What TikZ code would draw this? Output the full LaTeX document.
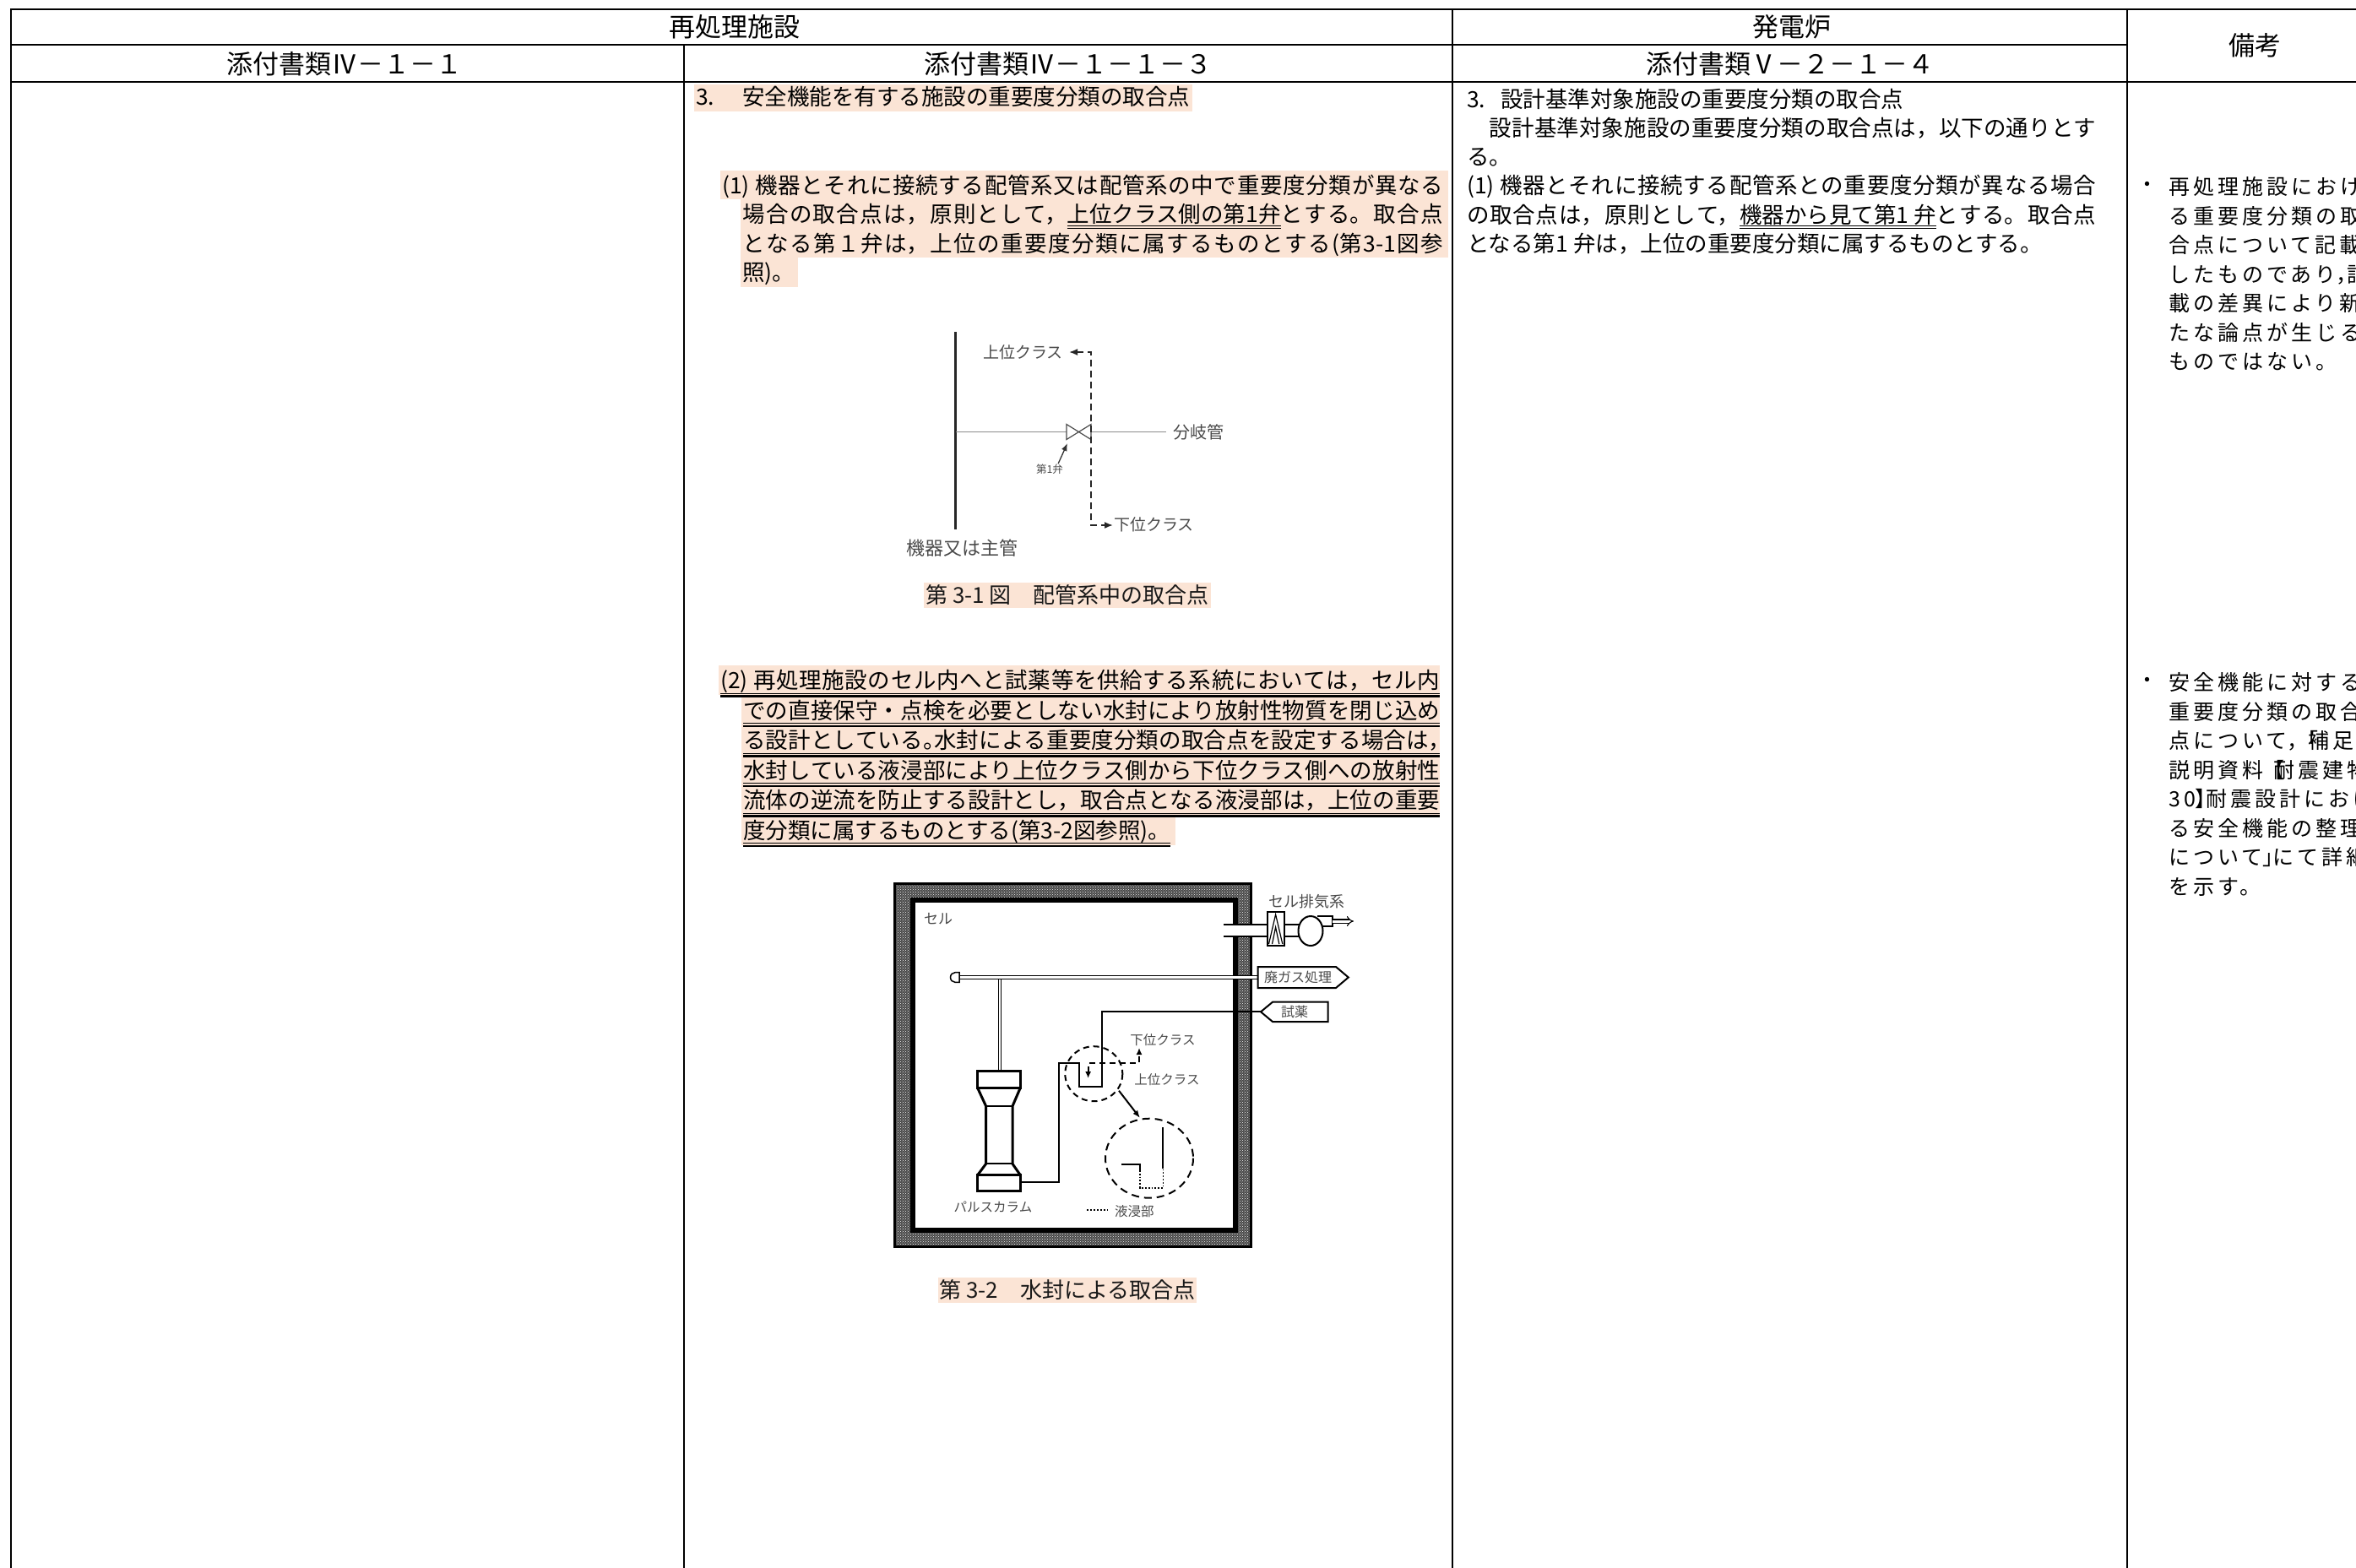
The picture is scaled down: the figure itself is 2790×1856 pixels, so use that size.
\documentclass[tikz,border=0pt]{standalone}
\usepackage{fontspec}
\setmainfont{Liberation Serif}
\newfontfamily\jp{Noto Sans CJK JP}
\newfontfamily\jpls{Noto Sans CJK JP}[LetterSpace=16]
\usetikzlibrary{arrows.meta,patterns}
\XeTeXlinebreaklocale "ja"
\XeTeXlinebreakskip=0pt plus 4pt minus 1pt
\definecolor{hl}{HTML}{FBE4D5}
\definecolor{fg}{HTML}{4A4A4A}
\newcommand\dul[1]{\setbox0=\hbox{#1}\rlap{\smash{\rule[-4pt]{\wd0}{1pt}}}\rlap{\smash{\rule[-7pt]{\wd0}{1pt}}}\box0}
\newcommand\tul[1]{\setbox0=\hbox{#1}\rlap{\smash{\rule[-6pt]{\wd0}{1pt}}}\rlap{\smash{\rule[-10pt]{\wd0}{2.4pt}}}\box0}
\newcommand\hp[1]{\makebox[0.5em][l]{#1}}
\newcommand\jl[2]{\parbox[t]{#1}{\hbadness=10000\tolerance=9999\parfillskip=0pt\noindent#2}}
\begin{document}
\begin{tikzpicture}[x=1pt,y=-1pt,
  tl/.style={line width=2.4},
  vl/.style={line width=1.7},
  hdr/.style={inner sep=0, font=\jp\fontsize{31}{34}\selectfont},
  body/.style={anchor=base west, inner sep=0, font=\jp\fontsize{26.5}{30}\selectfont},
  capbox/.style={inner xsep=2, inner ysep=3, fill=hl, text=black!90, font=\jp\fontsize{26}{28}\selectfont},
  lab/.style={inner sep=0, text=fg, font=\jp\fontsize{#1}{#1}\selectfont},
  rem/.style={anchor=base west, inner sep=0, font=\jpls\fontsize{25}{28}\selectfont},
  dul2/.style={line width=1},
  tul2/.style={line width=2.4},
  arr/.style={-{Latex[length=9pt,width=7pt]}},
  wallline/.style={line width=6}
]
\useasboundingbox (0,0) rectangle (2790,1856);
\clip (0,0) rectangle (2790,1856);
\fill[white] (0,0) rectangle (2790,1856);

% ---------------- table ----------------
\draw[tl] (12,11) -- (2800,11);
\draw[line width=2] (13,53) -- (2519,53);
\draw[tl] (12,97) -- (2800,97);
\draw[line width=2.2] (13,10) -- (13,1860);
\draw[vl] (810,53) -- (810,1860);
\draw[vl] (1720,10) -- (1720,1860);
\draw[vl] (2519,10) -- (2519,1860);

\node[hdr] (h1) at (870,32) {再処理施設};
\node[hdr] (h2) at (408,76) {添付書類Ⅳ－１－１};
\node[hdr] (h3) at (1265,76) {添付書類Ⅳ－１－１－３};
\node[hdr] (h4) at (2122,32) {発電炉};
\node[hdr] (h5) at (2120,76) {添付書類Ⅴ－２－１－４};
\node[hdr] (h6) at (2670,54) {備考};

% ---------------- column 2 ----------------
\fill[hl] (822,100) rectangle (1412,132);
\node[body] (t0a) at (824,124) {3.};
\node[body] (t0b) at (879,124) {安全機能を有する施設の重要度分類の取合点};

\fill[hl] (853,201.7) rectangle (1715,236.3);
\fill[hl] (877,236.3) rectangle (1715,305.4);
\fill[hl] (877,305.4) rectangle (945,340);
\node[body] (p1) at (855,229) {\jl{854pt}{(1) 機器とそれに接続する配管系又は配管系の中で重要度分類が異なる}};
\node[body] (p2) at (879,263.6) {\jl{830pt}{場合の取合点は，原則として，\dul{上位クラス側の第1弁}とする。取合点}};
\node[body] (p3) at (879,298.2) {\jl{830pt}{となる第１弁は，上位の重要度分類に属するものとする(第3-1図参}};
\node[body] (p4) at (879,332.7) {照)。};

% figure 3-1
\draw[line width=3.5, black!85] (1131.5,393) -- (1131.5,627);
\draw[line width=1.5, black!45] (1131.5,511.5) -- (1263,511.5);
\draw[line width=1.5, black!45] (1292,511.5) -- (1381,511.5);
\draw[line width=1.2, black!70, fill=white] (1263,502.5) -- (1292,520.5) -- (1292,502.5) -- (1263,520.5) -- cycle;
\coordinate (dtop) at (1266,417);
\coordinate (dbot) at (1318,622);
\draw[line width=1.8, black!85, dash pattern=on 8pt off 5pt, {Latex[length=10pt,width=8pt]}-{Latex[length=10pt,width=8pt]}]
  (dtop) -- (1292,417) -- (1292,622) -- (dbot);
\node[lab=19, anchor=east] (u1) at (1259,417) {上位クラス};
\node[lab=20, anchor=west] (bk) at (1389,511.5) {分岐管};
\node[lab=12.5] (v1) at (1243,556) {第1弁};
\coordinate (vtip) at (1264,525);
\draw[arr, line width=1.3, black!80] (v1.north east) ++(-6,-1) -- (vtip);
\node[lab=19, anchor=west] (d1) at (1319,621) {下位クラス};
\node[lab=22, anchor=west] (mk) at (1073,649) {機器又は主管};
\node[capbox] (cap1) at (1264,705) {第 3-1 図　配管系中の取合点};

% paragraph (2)
\fill[hl] (851,788) rectangle (1705,823);
\fill[hl] (878,823) rectangle (1705,965);
\fill[hl] (878,965) rectangle (1392,1000.5);
\node[body] (q1) at (853,815.5) {\jl{852pt}{(2) 再処理施設のセル内へと試薬等を供給する系統においては，セル内}};
\node[body] (q2) at (880,851) {\jl{825pt}{での直接保守・点検を必要としない水封により放射性物質を閉じ込め}};
\node[body] (q3) at (880,886.5) {\jl{825pt}{る設計としている\hp{。}水封による重要度分類の取合点を設定する場合は\hp{，}}};
\node[body] (q4) at (880,922) {\jl{825pt}{水封している液浸部により上位クラス側から下位クラス側への放射性}};
\node[body] (q5) at (880,957.5) {\jl{825pt}{流体の逆流を防止する設計とし，取合点となる液浸部は，上位の重要}};
\node[body] (q6) at (880,993) {\tul{度分類に属するものとする(第3-2図参照)。}};
\draw[dul2] (853,821) -- (1705,821);
\draw[tul2] (853,824.3) -- (1705,824.3);
\foreach \yb in {851,886.5,922,957.5}{
  \draw[dul2] (880,\yb+5.5) -- (1705,\yb+5.5);
  \draw[tul2] (880,\yb+8.8) -- (1705,\yb+8.8);
}

% figure 3-2 : cell wall
\fill[black!72] (1058,1045) rectangle (1483,1478);
\fill[pattern=crosshatch dots, pattern color=white] (1061,1048) rectangle (1480,1475);
\draw[line width=3] (1059.5,1046.5) rectangle (1481.5,1476.5);
\draw[wallline, fill=white] (1081,1066) rectangle (1463,1457);
\node[lab=17, anchor=west] (cell) at (1094,1088) {セル};

% exhaust
\fill[white] (1449,1095) rectangle (1500.6,1109.3);
\draw[line width=2] (1449,1095) -- (1500.6,1095);
\draw[line width=2] (1449,1109.3) -- (1500.6,1109.3);
\draw[line width=2, fill=white] (1500.6,1080) rectangle (1520.7,1120);
\draw[line width=1.2] (1502.5,1118) -- (1510.6,1083) -- (1518.8,1118);
\draw[line width=1.2] (1506.5,1118) -- (1510.6,1098) -- (1514.8,1118);
\draw[line width=2] (1520.7,1095) -- (1539,1095);
\draw[line width=2] (1520.7,1109.3) -- (1539,1109.3);
\draw[line width=2] (1560,1085) -- (1578,1085) -- (1578,1097) -- (1563,1097);
\draw[line width=2, fill=white] (1552,1102.5) ellipse [x radius=14.5, y radius=17.5];
\coordinate (exo) at (1578,1091);
\coordinate (exe) at (1603,1091);
\draw[line width=1.1, double, double distance=3pt, -{Implies}] (exo) -- (exe);
\node[lab=18] (exh) at (1547,1068) {セル排気系};

% off-gas line
\draw[line width=1.3, double, double distance=3pt] (1136,1157.5) -- (1489.5,1157.5);
\draw[line width=1.5, fill=white] (1136,1163.3) -- (1131,1163.3) arc[start angle=90, end angle=270, x radius=5.5, y radius=5.8] -- (1136,1151.7) -- cycle;
\draw[line width=2, fill=white] (1489.5,1145) -- (1582,1145) -- (1596.8,1157.5) -- (1582,1170) -- (1489.5,1170) -- cycle;
\node[lab=16] (og) at (1537,1157.5) {廃ガス処理};
\draw[line width=1.2, double, double distance=2.4pt] (1184,1160) -- (1184,1268.3);

% reagent
\draw[line width=2, fill=white] (1493,1198.3) -- (1507,1186.7) -- (1572.7,1186.7) -- (1572.7,1210) -- (1507,1210) -- cycle;
\node[lab=16] (rg) at (1533,1198.3) {試薬};
\draw[line width=2] (1208.3,1400) -- (1253.8,1400) -- (1253.8,1259.3) -- (1277.9,1259.3) -- (1277.9,1286.7) -- (1304.5,1286.7) -- (1304.5,1198.3) -- (1493,1198.3);

% pulse column
\draw[line width=3] (1157.6,1268.3) rectangle (1208.3,1288.3);
\draw[line width=3] (1157.6,1288.3) -- (1167.6,1310) -- (1167.6,1378.3) -- (1157.6,1391.7);
\draw[line width=3] (1208.3,1288.3) -- (1199,1310) -- (1199,1378.3) -- (1208.3,1391.7);
\draw[line width=2] (1167.6,1310) -- (1199,1310);
\draw[line width=2] (1167.6,1378.3) -- (1199,1378.3);
\draw[line width=3] (1157.6,1391.7) rectangle (1208.3,1410);
\node[lab=15.5] (pc) at (1176,1430) {パルスカラム};

% water seal detail
\draw[line width=2, dash pattern=on 7pt off 5pt] (1295.3,1271.7) ellipse [x radius=34, y radius=32.5];
\draw[line width=2, dash pattern=on 7pt off 5pt, {Latex[length=8pt,width=7pt]}-{Latex[length=8pt,width=7pt]}]
  (1288.6,1277) -- (1288.6,1259.3) -- (1349,1259.3) -- (1349,1241);
\node[lab=15.5] (lo2) at (1377,1231.7) {下位クラス};
\node[lab=15.5] (up2) at (1382,1278.3) {上位クラス};
\coordinate (zs) at (1325,1291.7);
\coordinate (ze) at (1350,1324);
\draw[arr, line width=2] (zs) -- (ze);
\draw[line width=2, dash pattern=on 9pt off 6pt] (1361,1371.7) ellipse [x radius=52, y radius=47];
\draw[line width=2] (1327.8,1379.3) -- (1350,1379.3) -- (1350,1386);
\draw[line width=1.8, dotted] (1350,1386) -- (1350,1406.7) -- (1377.4,1406.7) -- (1377.4,1384);
\draw[line width=2] (1377.4,1384) -- (1377.4,1335);
\draw[line width=2, dotted] (1287,1432.7) -- (1312,1432.7);
\node[lab=15.5, anchor=west] (lq) at (1320,1435) {液浸部};
\node[capbox] (cap2) at (1264,1528) {第 3-2　水封による取合点};

% ---------------- column 3 ----------------
\node[body] (r1a) at (1737,127) {3.};
\node[body] (r1b) at (1777,127) {設計基準対象施設の重要度分類の取合点};
\node[body] (r2) at (1737,161.3) {\jl{745pt}{　設計基準対象施設の重要度分類の取合点は，以下の通りとす}};
\node[body] (r3) at (1737,195.6) {る。};
\node[body] (r4) at (1737,229.9) {\jl{745pt}{(1) 機器とそれに接続する配管系との重要度分類が異なる場合}};
\node[body] (r5) at (1737,264.2) {\jl{745pt}{の取合点は，原則として，\dul{機器から見て第1 弁}とする。取合点}};
\node[body] (r6) at (1737,298.5) {となる第1 弁は，上位の重要度分類に属するものとする。};

% ---------------- column 4 ----------------
\node[lab=25, text=black] (bl1) at (2543,221) {・};
\node[rem] (s1) at (2568,230.5) {再処理施設におけ};
\node[rem] (s2) at (2568,265) {る重要度分類の取};
\node[rem] (s3) at (2568,299.5) {合点について記載};
\node[rem] (s4) at (2568,334) {したものであり\hp{，}記};
\node[rem] (s5) at (2568,368.5) {載の差異により新};
\node[rem] (s6) at (2568,403) {たな論点が生じる};
\node[rem] (s7) at (2568,437.5) {ものではない。};

\node[lab=25, text=black] (bl2) at (2543,808) {・};
\node[rem] (u1a) at (2568,817.5) {安全機能に対する};
\node[rem] (u2a) at (2568,852) {重要度分類の取合};
\node[rem] (u3a) at (2568,886.5) {点について\hp{，}\hp{「}補足};
\node[rem] (u4a) at (2568,921) {説明資料\hp{【}耐震建物};
\node[rem] (u5a) at (2568,955.5) {30\hp{】}耐震設計におけ};
\node[rem] (u6a) at (2568,990) {る安全機能の整理};
\node[rem] (u7a) at (2568,1024.5) {について\hp{」}にて詳細};
\node[rem] (u8a) at (2568,1059) {を示す。};
\end{tikzpicture}
\end{document}
